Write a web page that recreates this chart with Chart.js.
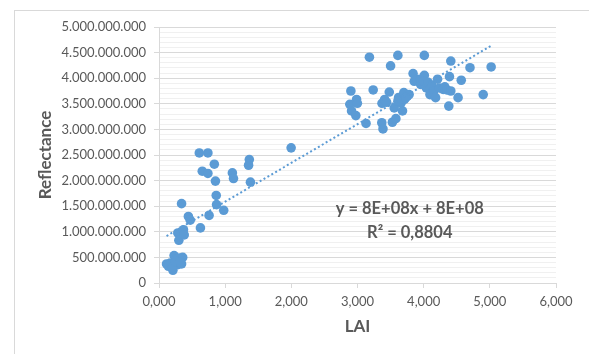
<!DOCTYPE html>
<html>
<head>
<meta charset="utf-8">
<script src="https://cdn.jsdelivr.net/npm/chart.js@4.4.1/dist/chart.umd.min.js"></script>
<style>
  html, body { margin: 0; padding: 0; background: #fff; }
  #wrap { width: 589px; height: 354px; }
</style>
</head>
<body>
<div id="wrap"><canvas id="grafico"></canvas></div>
<script>
// LAI values (x) and reflectance in millions (y)
const lai = [
  0.114, 0.142, 0.170, 0.210, 0.228, 0.256, 0.284, 0.313, 0.341, 0.358,
  0.200, 0.250, 0.320, 0.284, 0.300, 0.370, 0.381, 0.341, 0.444, 0.472,
  0.626, 0.609, 0.739, 0.654, 0.739, 0.836, 0.853, 0.865, 0.870, 0.757,
  0.978, 1.109, 1.126, 1.365, 1.354, 1.382, 1.997,
  2.884, 2.900, 2.910, 2.986, 2.998, 2.975, 3.129, 3.180, 3.237, 3.370,
  3.367, 3.385, 3.410, 3.440, 3.480, 3.500, 3.527, 3.555, 3.580, 3.610,
  3.620, 3.660, 3.680, 3.700, 3.710, 3.754, 3.780, 3.610, 3.730, 3.840,
  3.857, 3.896, 3.953, 3.953, 4.010, 4.010, 4.000, 4.040, 4.067, 4.095,
  4.095, 4.124, 4.152, 4.180, 4.210, 4.240, 4.295, 4.320, 4.350, 4.380,
  4.390, 4.410, 4.410, 4.520, 4.568, 4.700, 4.900, 5.020
];
const reflMillions = [
  372, 326, 390, 248, 535, 456, 358, 489, 372, 500,
  300, 420, 400, 978, 834, 1040, 939, 1550, 1300, 1226,
  1076, 2540, 2540, 2184, 2140, 2320, 1990, 1710, 1530, 1320,
  1420, 2150, 2040, 2410, 2300, 1970, 2640,
  3490, 3750, 3360, 3585, 3510, 3270, 3116, 4410, 3770, 3510,
  3130, 3010, 3585, 3530, 3730, 4240, 3140, 3420, 3210, 4445,
  3620, 3520, 3360, 3720, 3585, 3650, 3680, 3550, 3620, 4090,
  3940, 3980, 3880, 3980, 4445, 4055, 3940, 3810, 3920, 3780,
  3680, 3860, 3750, 3620, 3980, 3810, 3780, 3830, 3770, 3455,
  4030, 4335, 3750, 3620, 3960, 4205, 3680, 4220
];
const xTicks = [0, 1, 2, 3, 4, 5, 6];
const equationText = 'y = 8E+08x + 8E+08';
const r2Text = 'R² = 0,8804';

const pontos = lai.map((x, i) => ({ x: x, y: reflMillions[i] * 1e6 }));

// linear trendline (least squares) over the data range
function tendencia(dados) {
  let n = dados.length, sx = 0, sy = 0, sxx = 0, sxy = 0;
  dados.forEach(p => { sx += p.x; sy += p.y; sxx += p.x * p.x; sxy += p.x * p.y; });
  let b = (n * sxy - sx * sy) / (n * sxx - sx * sx);
  let a = (sy - b * sx) / n;
  let xs = dados.map(p => p.x);
  let x0 = Math.min(...xs), x1 = Math.max(...xs);
  return [{ x: x0, y: a + b * x0 }, { x: x1, y: a + b * x1 }];
}

function formataMilhar(v) {
  return String(Math.round(v)).replace(/\B(?=(\d{3})+(?!\d))/g, '.');
}

const cinza = '#595959';
const fonte = 'Lato, "Liberation Sans", sans-serif';

const extras = {
  id: 'extras',
  beforeDraw(chart) {
    const ctx = chart.ctx;
    ctx.save();
    ctx.fillStyle = '#fff';
    ctx.fillRect(0, 0, chart.width, chart.height);
    ctx.strokeStyle = '#d9d9d9';
    ctx.lineWidth = 1;
    ctx.strokeRect(14.5, 10.5, 700, 500);
    ctx.restore();
  },
  afterDraw(chart) {
    const ctx = chart.ctx;
    const sx = chart.scales.x, sy = chart.scales.y;
    ctx.save();
    ctx.fillStyle = cinza;
    ctx.textAlign = 'center';
    ctx.textBaseline = 'middle';
    ctx.font = 'bold 16.5px ' + fonte;
    ctx.fillText(equationText, sx.getPixelForValue(3.79), sy.getPixelForValue(1.46e9));
    ctx.fillText(r2Text, sx.getPixelForValue(3.79), sy.getPixelForValue(0.98e9));
    ctx.font = 'bold 17px ' + fonte;
    ctx.fillText('LAI', (chart.chartArea.left + chart.chartArea.right) / 2, 327);
    ctx.translate(46, (chart.chartArea.top + chart.chartArea.bottom) / 2);
    ctx.rotate(-Math.PI / 2);
    ctx.fillText('Reflectance', 0, 0);
    ctx.restore();
  }
};

const grafico = new Chart(document.getElementById('grafico'), {
  type: 'scatter',
  data: {
    datasets: [
      {
        type: 'line',
        data: tendencia(pontos),
        borderColor: '#5b9bd5',
        borderWidth: 2,
        borderDash: [2, 2.5],
        pointRadius: 0,
        fill: false,
        order: 0
      },
      {
        data: pontos,
        backgroundColor: '#5b9bd5',
        borderColor: '#5b9bd5',
        pointRadius: 4.8,
        pointBorderWidth: 0,
        order: 1
      }
    ]
  },
  options: {
    responsive: true,
    maintainAspectRatio: false,
    animation: false,
    layout: { padding: { left: 0, top: 27, right: 33, bottom: 0 } },
    plugins: { legend: { display: false }, tooltip: { enabled: false } },
    scales: {
      x: {
        type: 'linear',
        min: 0,
        max: 6,
        afterBuildTicks: (scale) => { scale.ticks = xTicks.map(v => ({ value: v })); },
        afterFit: (scale) => { scale.height = 71; },
        grid: { drawOnChartArea: false, color: '#d9d9d9', tickLength: 5 },
        border: { color: '#d9d9d9' },
        ticks: {
          color: cinza,
          font: { family: fonte, size: 13 },
          padding: 6,
          maxRotation: 0,
          callback: (v) => Number(v).toFixed(3).replace('.', ',')
        }
      },
      y: {
        min: 0,
        max: 5e9,
        afterFit: (scale) => { scale.width = 159; },
        grid: {
          color: (c) => (c.tick && c.tick.value % 5e8 === 0) ? '#d9d9d9' : '#f0f0f0',
          tickColor: (c) => (c.tick && c.tick.value % 5e8 === 0) ? '#d9d9d9' : 'rgba(0,0,0,0)',
          tickLength: 5
        },
        border: { color: '#d9d9d9' },
        ticks: {
          stepSize: 1e8,
          autoSkip: false,
          color: cinza,
          font: { family: fonte, size: 13 },
          padding: 8,
          callback: (v) => (v % 5e8 === 0) ? formataMilhar(v) : ''
        }
      }
    }
  },
  plugins: [extras]
});
</script>
</body>
</html>
